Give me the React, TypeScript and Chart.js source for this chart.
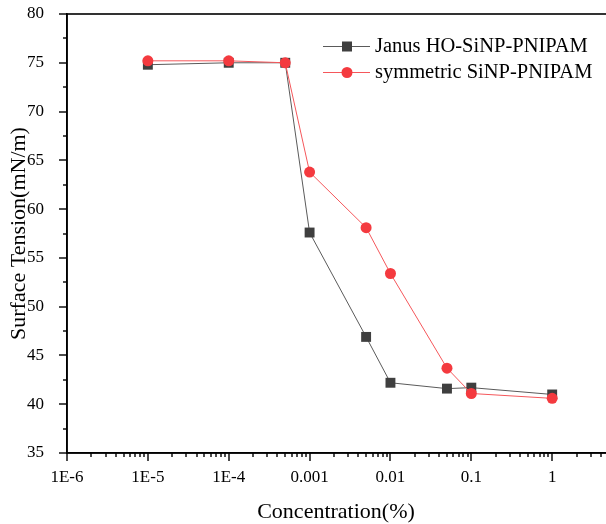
import React, { useEffect, useRef } from "react";
import { Chart, registerables } from "chart.js";

Chart.register(...registerables);

const concentrations = [1e-5, 1e-4, 5e-4, 0.001, 0.005, 0.01, 0.05, 0.1, 1];
const janusTension = [74.8, 75.0, 75.0, 57.6, 46.9, 42.2, 41.6, 41.7, 41.0];
const symmetricTension = [75.2, 75.2, 75.0, 63.8, 58.1, 53.4, 43.7, 41.1, 40.6];
const seriesNames = ["Janus HO-SiNP-PNIPAM", "symmetric SiNP-PNIPAM"];
const xTickValues = [1e-6, 1e-5, 1e-4, 1e-3, 1e-2, 1e-1, 1];
const xTickLabels = ["1E-6", "1E-5", "1E-4", "0.001", "0.01", "0.1", "1"];
const xMin = 1e-6;
const xMax = 4.5;
const yMin = 35;
const yMax = 80;
const yStep = 5;

const FONT = "'Liberation Serif', 'Times New Roman', serif";
const JANUS_MARK = "#3f3f3f";
const JANUS_LINE = "#5a5a5a";
const SYM_MARK = "#f43a3f";
const SYM_LINE = "#f5575b";

const zeroPad = (s: any) => {
  s.paddingLeft = 0;
  s.paddingRight = 0;
  s.paddingTop = 0;
  s.paddingBottom = 0;
};

const legendPlugin = {
  id: "insideLegend",
  afterDatasetsDraw(chart: any) {
    const ctx = chart.ctx;
    ctx.save();
    const rows = [
      { name: seriesNames[0], y: 46, mark: JANUS_MARK, line: JANUS_LINE, style: "rect" },
      { name: seriesNames[1], y: 72, mark: SYM_MARK, line: SYM_LINE, style: "circle" },
    ];
    rows.forEach((r) => {
      ctx.fillStyle = r.line;
      ctx.fillRect(323, r.y, 47, 1);
      ctx.fillStyle = r.mark;
      if (r.style === "rect") {
        ctx.fillRect(342, r.y - 4.5, 10, 10);
      } else {
        ctx.beginPath();
        ctx.arc(347, r.y + 0.5, 5.5, 0, Math.PI * 2);
        ctx.closePath();
        ctx.fill();
      }
      ctx.fillStyle = "#000";
      ctx.font = `20.5px ${FONT}`;
      ctx.textBaseline = "middle";
      ctx.textAlign = "left";
      ctx.fillText(r.name, 375, r.y + 1);
    });
    ctx.restore();
  },
};

const framePlugin = {
  id: "originFrame",
  afterDraw(chart: any) {
    const ctx = chart.ctx;
    const area = chart.chartArea;
    const xs = chart.scales.x;
    const ys = chart.scales.y;
    ctx.save();
    ctx.strokeStyle = "#000";
    ctx.lineWidth = 1.6;
    ctx.strokeRect(area.left, area.top, area.right - area.left + 30, area.bottom - area.top);
    ctx.fillStyle = "#000";
    for (let v = yMin; v <= yMax + 1e-9; v += yStep / 2) {
      const major = Math.abs(v / yStep - Math.round(v / yStep)) < 1e-6;
      const len = major ? 8 : 4;
      const py = Math.round(ys.getPixelForValue(v));
      ctx.fillRect(area.left - len, py - 0.7, len, 1.4);
    }
    for (let e = -6; e <= 1; e++) {
      for (let m = 1; m <= 9; m++) {
        const v = m * Math.pow(10, e);
        if (v < xMin * 0.999 || v > xMax) continue;
        const len = m === 1 ? 8 : 4;
        const px = Math.round(xs.getPixelForValue(v));
        ctx.fillRect(px - 0.7, area.bottom, 1.4, len);
      }
    }
    ctx.restore();
  },
};

export default function App() {
  const ref = useRef<HTMLCanvasElement>(null);
  useEffect(() => {
    if (!ref.current) return;
    Chart.defaults.font.family = FONT;
    Chart.defaults.color = "#000";
    const chart = new Chart(ref.current, {
      type: "line",
      data: {
        datasets: [
          {
            label: seriesNames[0],
            data: concentrations.map((c, i) => ({ x: c, y: janusTension[i] })),
            borderColor: JANUS_LINE,
            pointBackgroundColor: JANUS_MARK,
            pointStyle: "rect",
            pointRadius: 7,
            pointBorderWidth: 0,
            borderWidth: 1,
            order: 2,
          },
          {
            label: seriesNames[1],
            data: concentrations.map((c, i) => ({ x: c, y: symmetricTension[i] })),
            borderColor: SYM_LINE,
            pointBackgroundColor: SYM_MARK,
            pointStyle: "circle",
            pointRadius: 5.5,
            pointBorderWidth: 0,
            borderWidth: 1,
            order: 1,
          },
        ],
      },
      options: {
        animation: false,
        responsive: false,
        devicePixelRatio: 1,
        layout: { padding: { top: 14, right: 3, left: 0, bottom: 0 } },
        plugins: { legend: { display: false }, tooltip: { enabled: false } },
        scales: {
          x: {
            type: "logarithmic",
            min: xMin,
            max: xMax,
            afterBuildTicks: (s: any) => {
              s.ticks = xTickValues.map((v) => ({ value: v }));
            },
            afterFit: (s: any) => {
              s.height = 71;
              zeroPad(s);
            },
            grid: { display: false },
            border: { display: true, color: "#000", width: 1.6 },
            ticks: {
              autoSkip: false,
              maxRotation: 0,
              padding: 6,
              font: { size: 17, family: FONT },
              color: "#000",
              callback: (v: any) => {
                const i = xTickValues.findIndex((t) => Math.abs(Math.log10(t) - Math.log10(Number(v))) < 1e-6);
                return i >= 0 ? xTickLabels[i] : "";
              },
            },
            title: {
              display: true,
              text: "Concentration(%)",
              font: { size: 22, family: FONT, lineHeight: 1 },
              color: "#000",
              padding: { top: 0, bottom: 1 },
            },
          },
          y: {
            type: "linear",
            min: yMin,
            max: yMax,
            afterFit: (s: any) => {
              s.width = 67;
              zeroPad(s);
            },
            grid: { display: false },
            border: { display: true, color: "#000", width: 1.6 },
            ticks: { stepSize: yStep, padding: 15, font: { size: 17, family: FONT }, color: "#000" },
            title: {
              display: true,
              text: "Surface Tension(mN/m)",
              font: { size: 22, family: FONT, lineHeight: 1 },
              color: "#000",
              padding: { top: 8, bottom: 0 },
            },
          },
        },
      },
      plugins: [legendPlugin, framePlugin],
    } as any);
    return () => chart.destroy();
  }, []);

  return (
    <div style={{ position: "fixed", left: 0, top: 0, width: 606, height: 524, overflow: "hidden", background: "#fff" }}>
      <canvas ref={ref} width={612} height={524} style={{ display: "block", width: 612, height: 524 }} />
    </div>
  );
}
